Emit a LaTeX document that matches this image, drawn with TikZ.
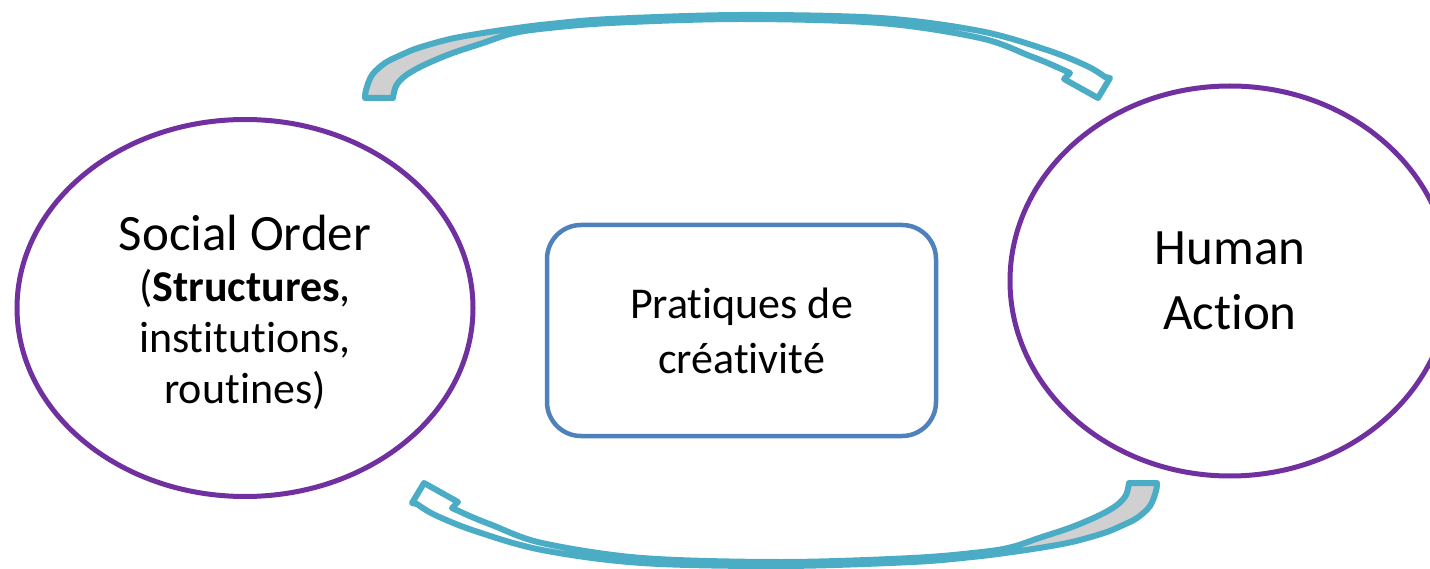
\documentclass[tikz,border=0pt]{standalone}
\usepackage{fontspec}
\setmainfont{Carlito}[Ligatures=NoCommon]
\usetikzlibrary{shapes.geometric}
\definecolor{ellpurple}{RGB}{112,48,160}
\definecolor{boxblue}{RGB}{79,129,189}
\definecolor{arrowaqua}{RGB}{75,172,198}
\definecolor{arrowgray}{RGB}{208,208,208}
\newcommand{\arrowoutline}{plot[smooth,tension=0.55] coordinates {(365,98) (366,90) (372,75) (385,63) (401,55) (418,48) (450,39) (483,33) (517,28) (550,24) (610,19) (740,15) (880,18) (980,31) (1047,50) (1087,66) (1105,77)} -- (1110,78) -- (1098,98) -- (1064,79) -- plot[smooth,tension=0.55] coordinates {(1070,73) (1050,64) (1030,56) (980,38) (880,23) (740,19) (610,23) (540,29) (510,34) (483,43) (450,54) (422,66) (405,76) (396,86) (393,98)} -- cycle}
\newcommand{\cyclearrow}{%
  \begin{scope}
    \clip (0,0) rectangle (700,569);
    \fill[arrowgray] \arrowoutline;
  \end{scope}
  \draw[arrowline] \arrowoutline;
}
\begin{document}
\begin{tikzpicture}[x=1pt,y=-1pt,
  ellnode/.style={ellipse, draw=ellpurple, line width=5pt, inner sep=0pt, align=center},
  boxnode/.style={rectangle, rounded corners=34pt, draw=boxblue, line width=4.5pt, align=center, minimum width=389pt, minimum height=211pt, inner sep=0pt, font=\fontsize{44}{55}\selectfont},
  arrowline/.style={draw=arrowaqua, line width=6pt, line join=round}]
\useasboundingbox (0,0) rectangle (1430,569);
\clip (0,0) rectangle (1430,569);
\node[ellnode, minimum width=456pt, minimum height=377pt] (so) at (245,308) {};
\node[align=center, inner sep=0pt, font=\fontsize{44}{51}\selectfont] (sotext) at (245,312)
  {{\fontsize{51}{51}\selectfont Social Order}\\(\textbf{Structures},\\institutions,\\routines)};
\node[ellnode, minimum width=440pt, minimum height=390pt, font=\fontsize{51}{65}\selectfont] (ha) at (1230,281) {Human\\Action};
\node[boxnode] (pc) at (741.5,330.5) {Pratiques de\\créativité};
\cyclearrow
\begin{scope}[rotate around={180:(761,290.5)}]
\cyclearrow
\end{scope}
\end{tikzpicture}
\end{document}
